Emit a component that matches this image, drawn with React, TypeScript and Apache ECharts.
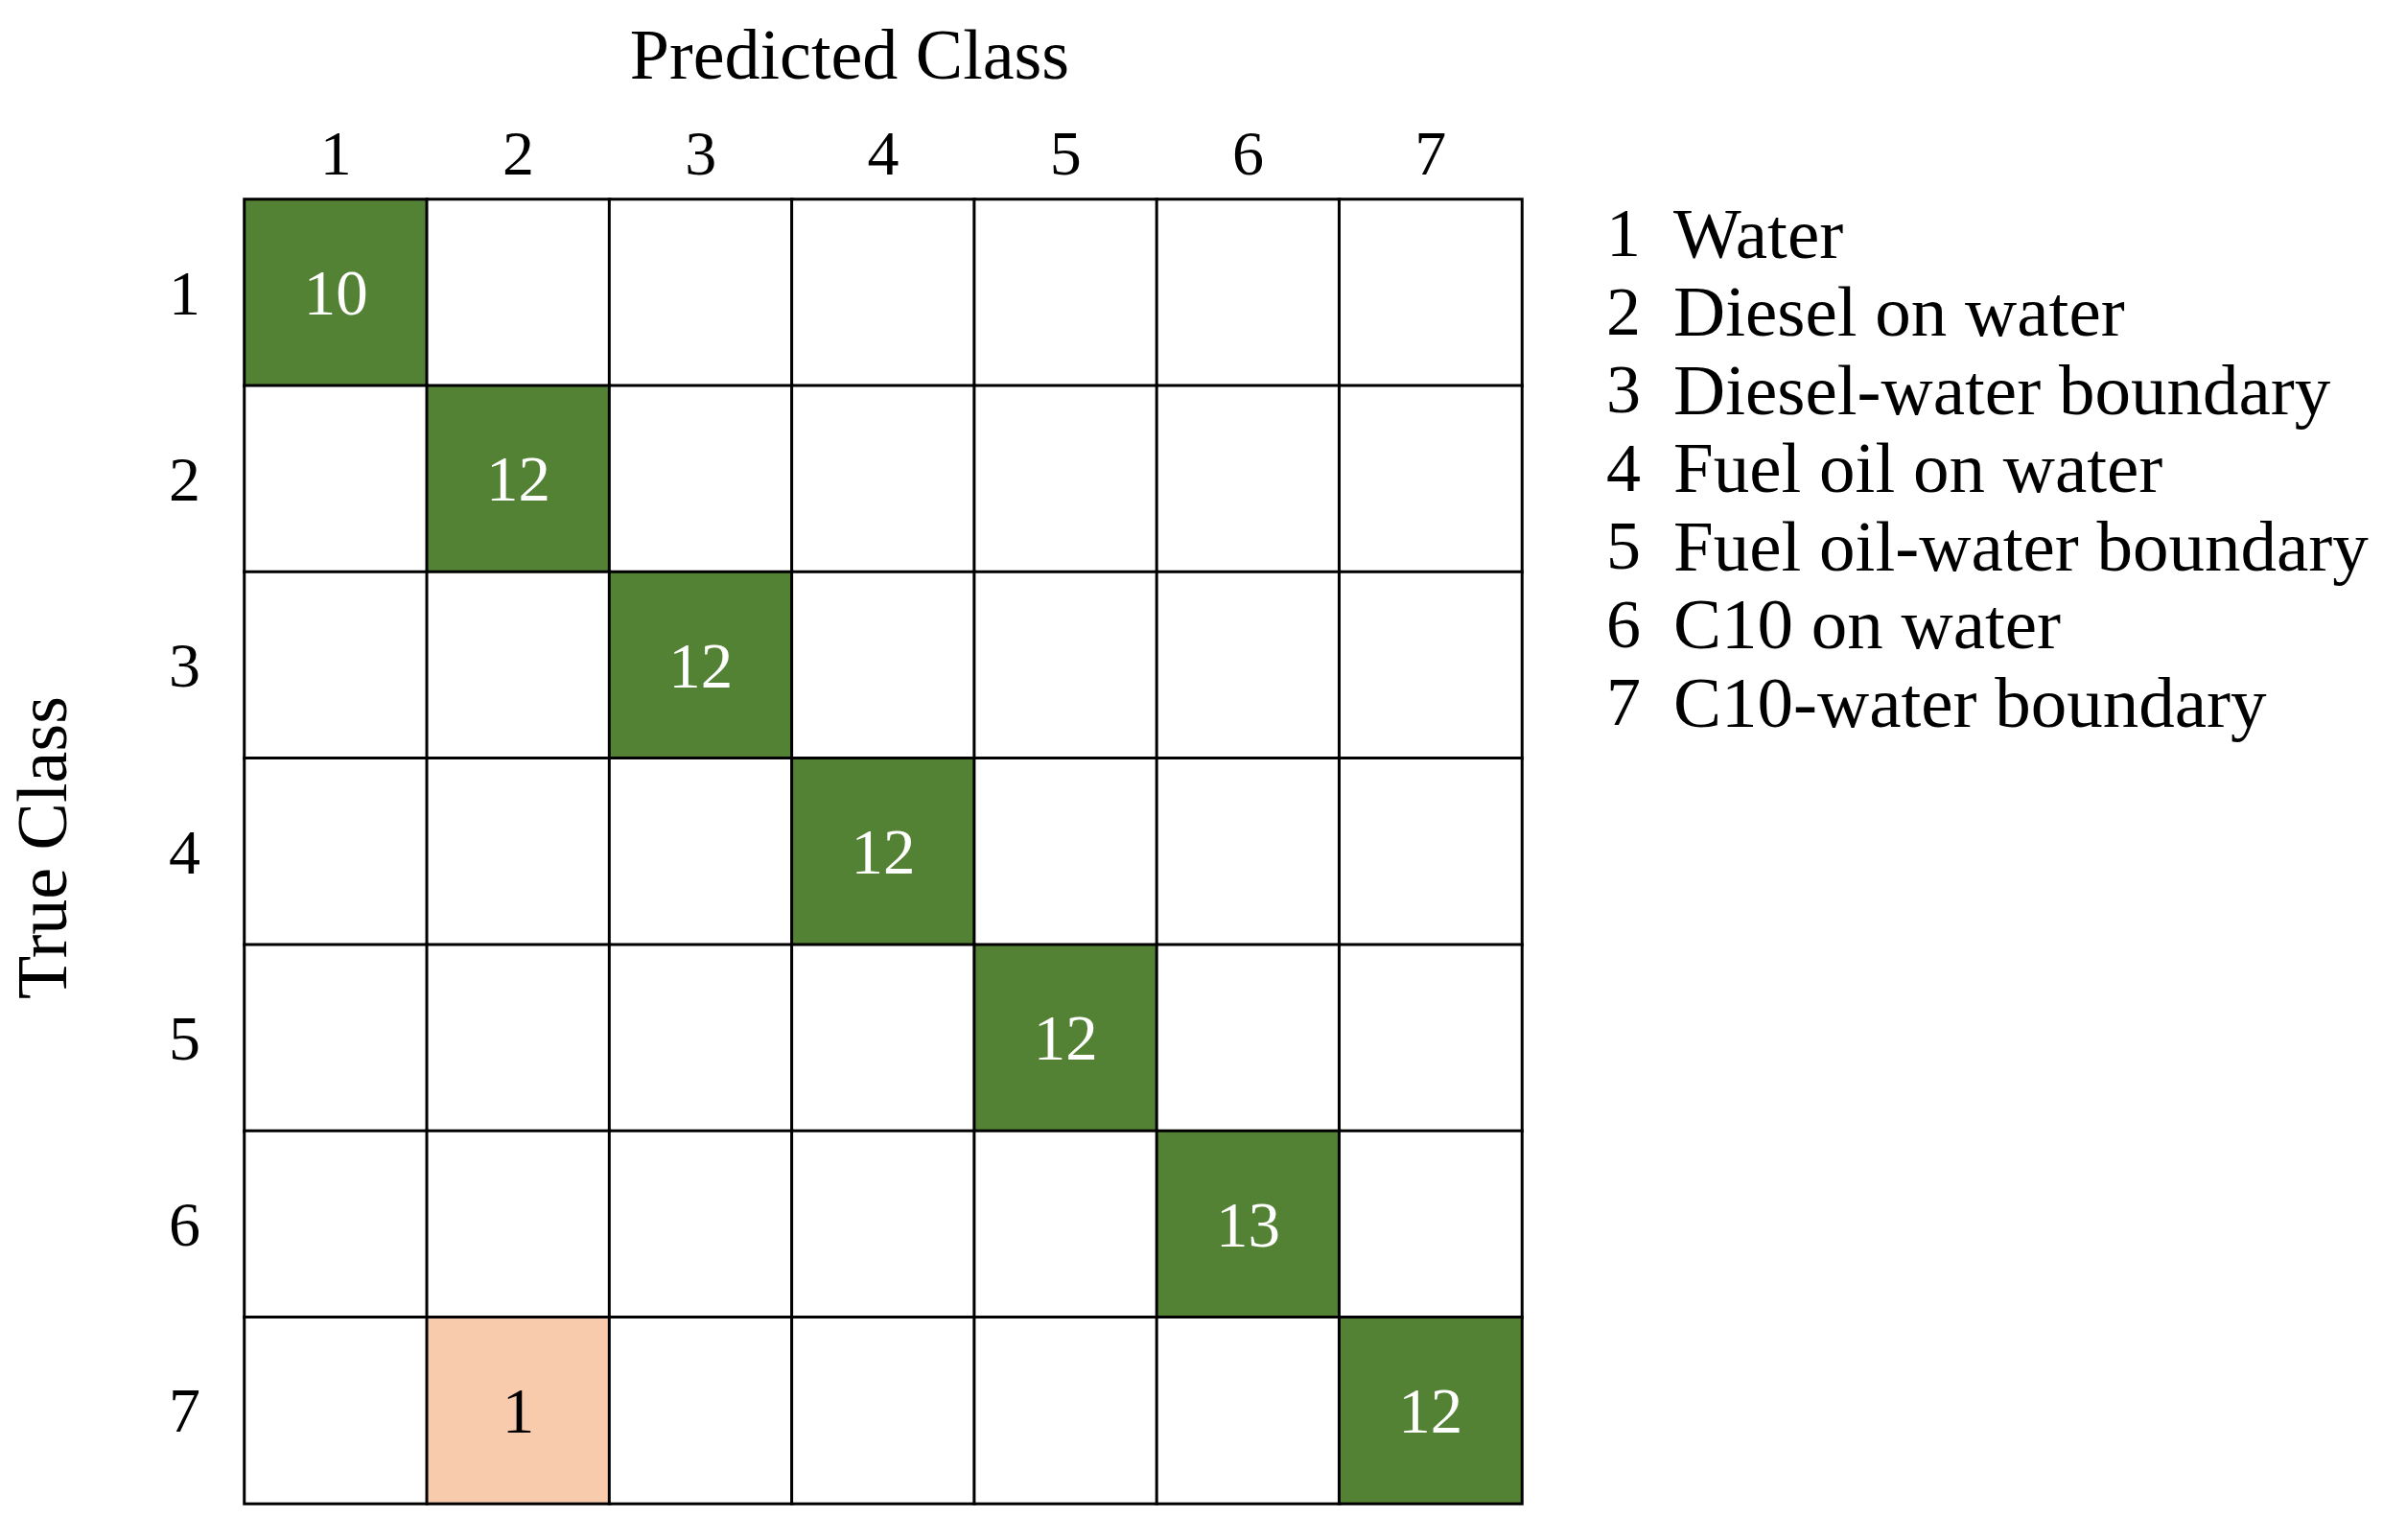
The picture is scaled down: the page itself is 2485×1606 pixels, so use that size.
import React, { useEffect, useRef } from "react";
import * as echarts from "echarts";

const classIds = ["1", "2", "3", "4", "5", "6", "7"];
const classNames = [
  "Water",
  "Diesel on water",
  "Diesel-water boundary",
  "Fuel oil on water",
  "Fuel oil-water boundary",
  "C10 on water",
  "C10-water boundary",
];
// rows = true class, columns = predicted class
const confusion = [
  [10, 0, 0, 0, 0, 0, 0],
  [0, 12, 0, 0, 0, 0, 0],
  [0, 0, 12, 0, 0, 0, 0],
  [0, 0, 0, 12, 0, 0, 0],
  [0, 0, 0, 0, 12, 0, 0],
  [0, 0, 0, 0, 0, 13, 0],
  [0, 1, 0, 0, 0, 0, 12],
];
const xTitle = "Predicted Class";
const yTitle = "True Class";

const FONT = "'Liberation Serif', 'Times New Roman', serif";
const GREEN = "#548235";
const PEACH = "#F8CBAD";

export default function App() {
  const ref = useRef<HTMLDivElement>(null);
  useEffect(() => {
    if (!ref.current) return;
    const chart = echarts.init(ref.current, null, { renderer: "svg" });
    const data: any[] = [];
    confusion.forEach((row, i) => {
      row.forEach((v, j) => {
        // kind: 0 empty, 1 correct, 2 misclassified
        const kind = v > 0 ? (i === j ? 1 : 2) : 0;
        data.push({
          value: [j, i, v, kind],
          label: { show: v > 0, color: kind === 1 ? "#ffffff" : "#000000" },
        });
      });
    });
    const legendTexts: any[] = [];
    classNames.forEach((name, k) => {
      const y = 243 + k * 81.5;
      legendTexts.push({
        type: "text",
        x: 1693,
        y,
        style: {
          text: classIds[k],
          fontFamily: FONT,
          fontSize: 72,
          fill: "#000",
          textAlign: "center",
          textVerticalAlign: "middle",
        },
      });
      legendTexts.push({
        type: "text",
        x: 1745,
        y,
        style: {
          text: name,
          fontFamily: FONT,
          fontSize: 75,
          fill: "#000",
          textAlign: "left",
          textVerticalAlign: "middle",
        },
      });
    });
    chart.setOption({
      animation: false,
      backgroundColor: "#ffffff",
      grid: { left: 255, top: 208, width: 1332, height: 1360 },
      visualMap: {
        show: false,
        type: "piecewise",
        dimension: 3,
        seriesIndex: 0,
        pieces: [
          { value: 0, color: "#ffffff" },
          { value: 1, color: GREEN },
          { value: 2, color: PEACH },
        ],
      },
      xAxis: {
        type: "category",
        position: "top",
        data: classIds,
        axisLine: { show: false },
        axisTick: { show: false },
        splitLine: { show: false },
        axisLabel: { fontFamily: FONT, fontSize: 66, color: "#000", margin: 16 },
      },
      yAxis: {
        type: "category",
        inverse: true,
        data: classIds,
        axisLine: { show: false },
        axisTick: { show: false },
        splitLine: { show: false },
        axisLabel: { fontFamily: FONT, fontSize: 66, color: "#000", margin: 46 },
      },
      series: [
        {
          type: "heatmap",
          data,
          itemStyle: { borderColor: "#000", borderWidth: 3 },
          label: {
            show: true,
            fontFamily: FONT,
            fontSize: 67,
            formatter: (p: any) => String(p.value[2]),
          },
          emphasis: { disabled: true },
        },
      ],
      graphic: [
        {
          type: "text",
          x: 886,
          y: 57,
          style: {
            text: xTitle,
            fontFamily: FONT,
            fontSize: 74,
            fill: "#000",
            textAlign: "center",
            textVerticalAlign: "middle",
          },
        },
        {
          type: "text",
          x: 44,
          y: 884,
          rotation: Math.PI / 2,
          style: {
            text: yTitle,
            fontFamily: FONT,
            fontSize: 74,
            fill: "#000",
            textAlign: "center",
            textVerticalAlign: "middle",
          },
        },
        ...legendTexts,
      ],
    });
    return () => chart.dispose();
  }, []);
  return (
    <div
      ref={ref}
      style={{ position: "fixed", left: 0, top: 0, width: 2485, height: 1606, background: "#fff" }}
    />
  );
}
